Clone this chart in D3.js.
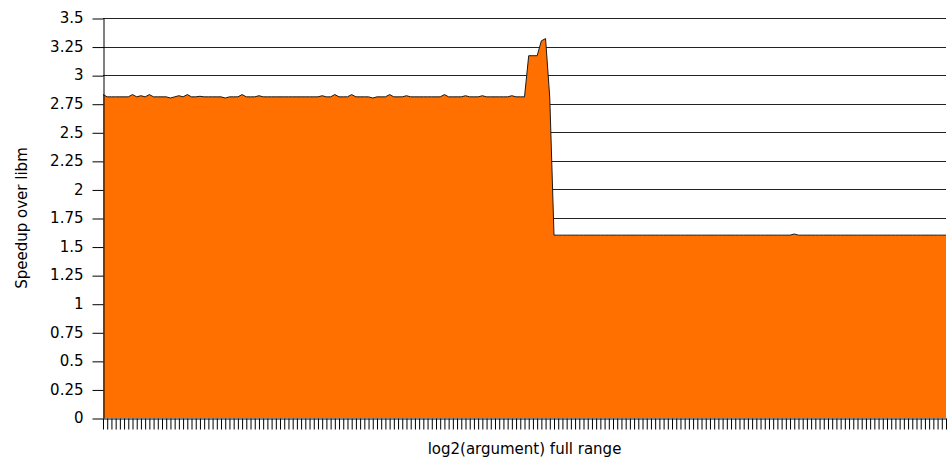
<!DOCTYPE html>
<html>
<head>
<meta charset="utf-8">
<script src="https://cdn.jsdelivr.net/npm/d3@7"></script>
<style>
    body { margin: 0; background: #fff; }
    text { font-family: "DejaVu Sans", Verdana, sans-serif; }
</style>
</head>
<body>
<div id="main"></div>
<script>
// log2(argument) categories, one per tick on the x axis
const categories = [
    -100, -99, -98, -97, -96, -95, -94, -93, -92, -91, -90, -89, -88, -87, -86, -85, -84, -83, -82, -81,
    -80, -79, -78, -77, -76, -75, -74, -73, -72, -71, -70, -69, -68, -67, -66, -65, -64, -63, -62, -61,
    -60, -59, -58, -57, -56, -55, -54, -53, -52, -51, -50, -49, -48, -47, -46, -45, -44, -43, -42, -41,
    -40, -39, -38, -37, -36, -35, -34, -33, -32, -31, -30, -29, -28, -27, -26, -25, -24, -23, -22, -21,
    -20, -19, -18, -17, -16, -15, -14, -13, -12, -11, -10, -9, -8, -7, -6, -5, -4, -3, -2, -1,
    0, 1, 2, 3, 4, 5, 6, 7, 8, 9, 10, 11, 12, 13, 14, 15, 16, 17, 18, 19,
    20, 21, 22, 23, 24, 25, 26, 27, 28, 29, 30, 31, 32, 33, 34, 35, 36, 37, 38, 39,
    40, 41, 42, 43, 44, 45, 46, 47, 48, 49, 50, 51, 52, 53, 54, 55, 56, 57, 58, 59,
    60, 61, 62, 63, 64, 65, 66, 67, 68, 69, 70, 71, 72, 73, 74, 75, 76, 77, 78, 79,
    80, 81, 82, 83, 84, 85, 86, 87, 88, 89, 90, 91, 92, 93, 94, 95, 96, 97, 98, 99,
    100
]

// speedup over libm
const speedup = [
    2.83, 2.81, 2.81, 2.81, 2.81, 2.81, 2.81, 2.83, 2.81, 2.82, 2.81, 2.83, 2.81, 2.81, 2.81, 2.81, 2.80, 2.81, 2.82, 2.81,
    2.83, 2.81, 2.81, 2.815, 2.81, 2.81, 2.81, 2.81, 2.81, 2.80, 2.81, 2.81, 2.81, 2.83, 2.81, 2.81, 2.81, 2.82, 2.81, 2.81,
    2.81, 2.81, 2.81, 2.81, 2.81, 2.81, 2.81, 2.81, 2.81, 2.81, 2.81, 2.81, 2.82, 2.81, 2.81, 2.83, 2.81, 2.81, 2.81, 2.83,
    2.81, 2.81, 2.81, 2.81, 2.80, 2.81, 2.81, 2.81, 2.83, 2.81, 2.81, 2.81, 2.82, 2.81, 2.81, 2.81, 2.81, 2.81, 2.81, 2.81,
    2.81, 2.83, 2.81, 2.81, 2.81, 2.81, 2.82, 2.81, 2.81, 2.81, 2.82, 2.81, 2.81, 2.81, 2.81, 2.81, 2.81, 2.82, 2.81, 2.81,
    2.81, 3.17, 3.17, 3.17, 3.30, 3.32, 2.80, 1.60, 1.60, 1.60, 1.60, 1.60, 1.60, 1.60, 1.60, 1.60, 1.60, 1.60, 1.60, 1.60,
    1.60, 1.60, 1.60, 1.60, 1.60, 1.60, 1.60, 1.60, 1.60, 1.60, 1.60, 1.60, 1.60, 1.60, 1.60, 1.60, 1.60, 1.60, 1.60, 1.60,
    1.60, 1.60, 1.60, 1.60, 1.60, 1.60, 1.60, 1.60, 1.60, 1.60, 1.60, 1.60, 1.60, 1.60, 1.60, 1.60, 1.60, 1.60, 1.60, 1.60,
    1.60, 1.60, 1.60, 1.60, 1.61, 1.60, 1.60, 1.60, 1.60, 1.60, 1.60, 1.60, 1.60, 1.60, 1.60, 1.60, 1.60, 1.60, 1.60, 1.60,
    1.60, 1.60, 1.60, 1.60, 1.60, 1.60, 1.60, 1.60, 1.60, 1.60, 1.60, 1.60, 1.60, 1.60, 1.60, 1.60, 1.60, 1.60, 1.60, 1.60,
    1.60
]

const yTicks = [0, 0.25, 0.5, 0.75, 1, 1.25, 1.5, 1.75, 2, 2.25, 2.5, 2.75, 3, 3.25, 3.5]
const yTickLabels = ['0', '0.25', '0.5', '0.75', '1', '1.25', '1.5', '1.75', '2', '2.25', '2.5', '2.75', '3', '3.25', '3.5']

const ctx = {
    w: 948,
    h: 462,
    left: 103,
    right: 946,
    top: 18,
    bottom: 418
}

function createViz() {
    let svgEl = d3.select('#main').append('svg')
        .attr('width', ctx.w)
        .attr('height', ctx.h)
    let rootG = svgEl.append('g')

    let data = categories.map((c, i) => ({ cat: c, v: speedup[i] }))

    let xScale = d3.scalePoint().domain(categories).range([ctx.left, ctx.right])
    let yScale = d3.scaleLinear().domain([0, 3.5]).range([ctx.bottom, ctx.top])

    // gridlines
    rootG.append('g')
        .selectAll('line')
        .data(yTicks.filter(t => t > 0))
        .join('line')
        .attr('x1', ctx.left)
        .attr('x2', ctx.right)
        .attr('y1', d => Math.round(yScale(d)) + 0.5)
        .attr('y2', d => Math.round(yScale(d)) + 0.5)
        .attr('stroke', '#222')
        .attr('stroke-width', 1)

    // area + outline
    rootG.append('path')
        .datum(data)
        .attr('fill', '#ff7000')
        .attr('d', d3.area()
            .x(d => xScale(d.cat))
            .y0(yScale(0))
            .y1(d => yScale(d.v)))

    rootG.append('path')
        .datum(data)
        .attr('fill', 'none')
        .attr('stroke', '#1a1a1a')
        .attr('stroke-width', 1)
        .attr('d', d3.line()
            .x(d => xScale(d.cat))
            .y(d => yScale(d.v)))

    // x axis, one tick per category, no labels
    let xAxis = rootG.append('g')
        .attr('transform', `translate(0,${ctx.bottom + 0.5})`)
        .call(d3.axisBottom(xScale).tickSize(11).tickSizeOuter(0).tickFormat(''))
    xAxis.select('.domain').attr('stroke', '#000')
    xAxis.selectAll('.tick line').attr('stroke', '#000')

    // y axis
    let yAxis = rootG.append('g')
        .attr('transform', `translate(${ctx.left + 0.5},0)`)
        .call(d3.axisLeft(yScale)
            .tickValues(yTicks)
            .tickFormat((d, i) => yTickLabels[i])
            .tickSize(11)
            .tickSizeOuter(0)
            .tickPadding(9))
    yAxis.selectAll('.tick line')
        .attr('transform', 'translate(0,0.5)')
        .attr('stroke', '#000')
    yAxis.select('.domain').attr('stroke', '#000')
    yAxis.selectAll('text')
        .attr('font-size', 15)
        .attr('font-family', '"DejaVu Sans", Verdana, sans-serif')
        .attr('fill', '#000')

    // axis titles
    rootG.append('text')
        .attr('x', (ctx.left + ctx.right) / 2)
        .attr('y', 454)
        .attr('text-anchor', 'middle')
        .attr('font-size', 15)
        .attr('fill', '#000')
        .text('log2(argument) full range')

    rootG.append('text')
        .attr('transform', `translate(27,${(ctx.top + ctx.bottom) / 2}) rotate(-90)`)
        .attr('text-anchor', 'middle')
        .attr('font-size', 15)
        .attr('fill', '#000')
        .text('Speedup over libm')
}

createViz()
</script>
</body>
</html>
